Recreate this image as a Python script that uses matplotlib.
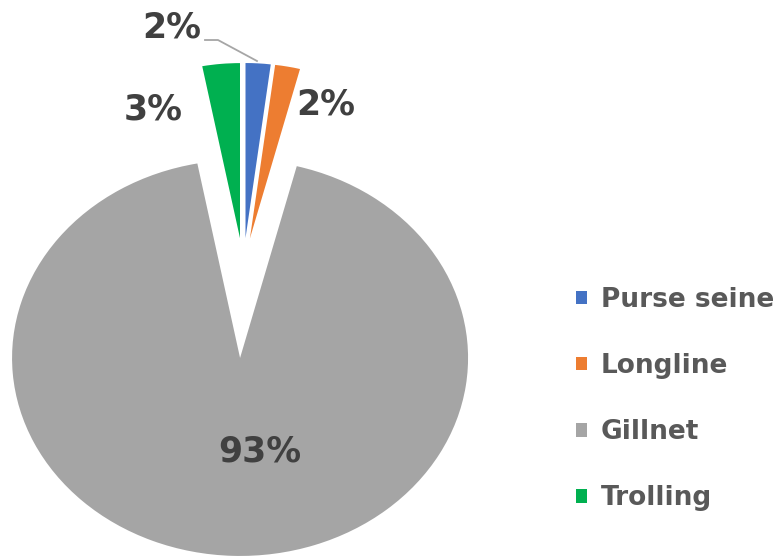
import matplotlib
matplotlib.use("Agg")
import matplotlib.pyplot as plt

# catch share by fishing gear (%)
gears = ["Purse seine", "Longline", "Gillnet", "Trolling"]
shares = [2, 2, 93, 3]
colors = ["#4472C4", "#ED7D31", "#A5A5A5", "#00B050"]

# slice layout: the big slice is pulled down, the small ones up (and drawn a bit shorter)
explode = [0.154, 0.154, 0.452, 0.154]
radii = [0.884, 0.884, 1.0, 0.884]
label_xy = [(-0.313, 1.215), (0.363, 0.830), (0.073, -0.925), (-0.394, 0.805)]

W, H = 781, 559
PX_X, PX_Y = 228.0, 198.0      # pixels per data unit (pie is drawn slightly flattened)
CX, CY = 243.3, 268.5          # pie centre in pixels from the top-left corner

fig = plt.figure(figsize=(W / 100, H / 100), dpi=100)
ax = fig.add_axes([0, 0, 1, 1])
wedges, _ = ax.pie(shares, colors=colors, startangle=90, counterclock=False,
                   explode=explode, wedgeprops=dict(linewidth=0))
for w, r in zip(wedges, radii):
    w.set_radius(r)

ax.set_aspect("auto")
ax.set_xlim(-CX / PX_X, (W - CX) / PX_X)
ax.set_ylim(-(H - CY) / PX_Y, CY / PX_Y)
ax.axis("off")

for (x, y), v in zip(label_xy, shares):
    ax.text(x, y, f"{v}%", ha="center", va="center", fontsize=25,
            fontweight="bold", color="#404040")

# leader line from the top label down to the purse seine slice
ax.plot([-0.168, -0.111, 0.060], [1.154, 1.154, 1.048], color="#A6A6A6", lw=1.3)

ax.legend(wedges, gears, loc="center left", bbox_to_anchor=(0.738, 0.286),
          frameon=False, prop={"weight": "bold", "size": 19}, labelcolor="#595959",
          handlelength=0.42, handleheight=0.42, handletextpad=0.5,
          labelspacing=1.52, borderpad=0, borderaxespad=0)

fig.savefig("out.png", dpi=100)
